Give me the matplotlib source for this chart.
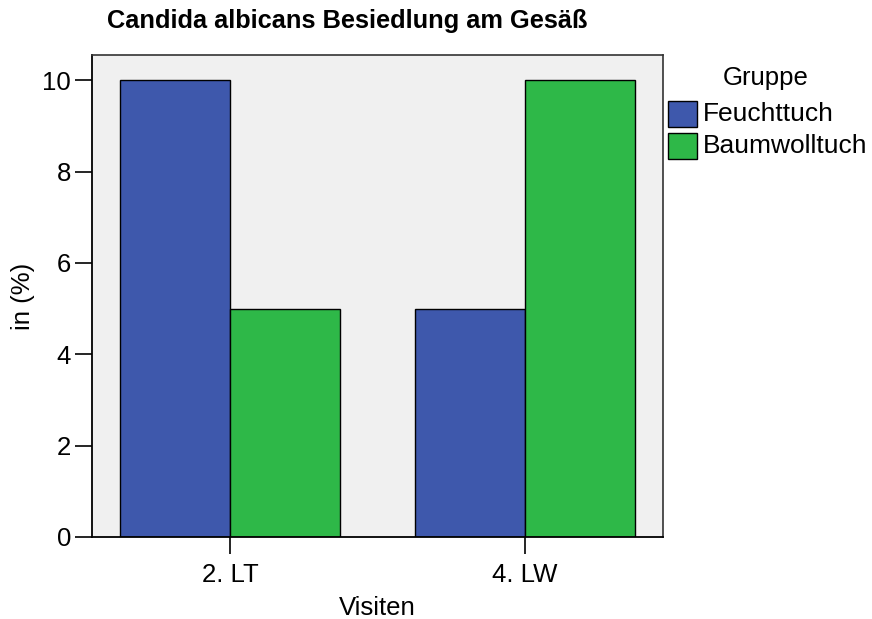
import numpy as np
import matplotlib
matplotlib.use('Agg')
import matplotlib.pyplot as plt
from matplotlib.patches import Rectangle

plt.rcParams['font.family'] = ['Liberation Sans', 'DejaVu Sans']

visits = ['2. LT', '4. LW']
groups = ['Feuchttuch', 'Baumwolltuch']
feucht = [10, 5]
baumwoll = [5, 10]
colors = ['#3E58AC', '#2EB848']

fig = plt.figure(figsize=(8.72, 6.19), dpi=100)
ax = fig.add_axes([92/872, 1-537/619, (663-92)/872, (537-55)/619])
ax.set_facecolor('#F0F0F0')

x = np.arange(len(visits))
w = 0.373
ax.bar(x - w/2, feucht, w, color=colors[0], edgecolor='black', linewidth=1)
ax.bar(x + w/2, baumwoll, w, color=colors[1], edgecolor='black', linewidth=1)

ax.set_xlim(-0.468, 1.468)
ax.set_ylim(0, 10.55)
ax.set_xticks(x)
ax.set_xticklabels(visits)
ax.set_yticks([0, 2, 4, 6, 8, 10])
ax.tick_params(axis='both', labelsize=18.5, length=12, width=1.2, direction='out')
ax.tick_params(axis='x', pad=7)
ax.tick_params(axis='y', pad=3)

for s in ['left', 'bottom']:
    ax.spines[s].set_color('black')
    ax.spines[s].set_linewidth(1.3)
for s in ['top', 'right']:
    ax.spines[s].set_color('#333333')
    ax.spines[s].set_linewidth(1.2)

ax.set_xlabel('Visiten', fontsize=18.5, labelpad=6)
ax.set_ylabel('in (%)', fontsize=18.5, labelpad=5)

fig.text(347.5/872, 1-21/619, 'Candida albicans Besiedlung am Gesäß',
         ha='center', va='center', fontsize=18.3, fontweight='bold')

# legend
fig.text(766/872, 1-78/619, 'Gruppe', ha='center', va='center', fontsize=18.5)
for i, (g, c) in enumerate(zip(groups, colors)):
    top = 101 + i*32
    fig.patches.append(Rectangle((668/872, 1-(top+26)/619), 29/872, 26/619,
                                 transform=fig.transFigure, facecolor=c,
                                 edgecolor='black', linewidth=1))
    fig.text(703/872, 1-(top+13)/619, g, ha='left', va='center', fontsize=19)

fig.savefig('out.png', dpi=100)
